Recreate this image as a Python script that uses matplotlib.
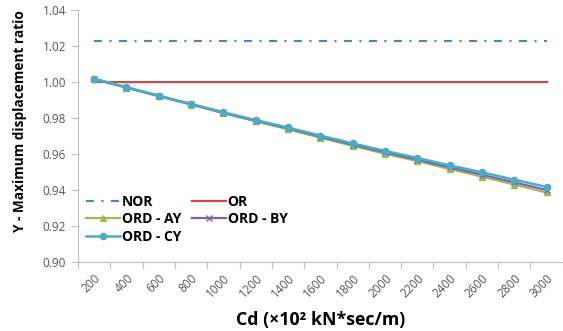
import matplotlib
matplotlib.use("Agg")
import matplotlib.pyplot as plt
import numpy as np

categories = ["200", "400", "600", "800", "1000", "1200", "1400", "1600",
              "1800", "2000", "2200", "2400", "2600", "2800", "3000"]
nor = [1.023] * 15
orr = [1.000] * 15
ord_ay = [1.0015, 0.9968, 0.9920, 0.9874, 0.9826, 0.9781, 0.9737, 0.9690,
          0.9645, 0.9601, 0.9560, 0.9516, 0.9474, 0.9430, 0.9386]
ord_by = [1.0016, 0.9969, 0.9922, 0.9876, 0.9829, 0.9785, 0.9742, 0.9696,
          0.9652, 0.9609, 0.9568, 0.9526, 0.9485, 0.9442, 0.9400]
ord_cy = [1.0018, 0.9971, 0.9924, 0.9878, 0.9832, 0.9788, 0.9747, 0.9702,
          0.9659, 0.9617, 0.9578, 0.9537, 0.9498, 0.9457, 0.9417]
yticks = [0.90, 0.92, 0.94, 0.96, 0.98, 1.00, 1.02, 1.04]

plt.rcParams['font.family'] = ['Open Sans', 'DejaVu Sans']

fig = plt.figure(figsize=(5.63, 3.31), dpi=100)
ax = fig.add_axes([0.1385, 0.2085, 0.861, 0.7615])

x = np.arange(len(categories))
h_nor, = ax.plot(x, nor, color='#4F81BD', lw=1.5, linestyle=(0, (3.8, 3.6, 1.0, 3.6)), label='NOR')
h_or, = ax.plot(x, orr, color='#C0504D', lw=1.6, label='OR')
h_ay, = ax.plot(x, ord_ay, color='#9BBB59', lw=1.6, marker='^', ms=5, label='ORD - AY')
h_by, = ax.plot(x, ord_by, color='#8064A2', lw=1.6, marker='x', ms=5, label='ORD - BY')
h_cy, = ax.plot(x, ord_cy, color='#4BACC6', lw=1.8, marker='o', ms=4.5, label='ORD - CY')

ax.set_xlim(-0.5, len(categories) - 0.5)
ax.set_ylim(0.90, 1.04)
ax.set_yticks(yticks)
ax.set_yticklabels([f"{v:.2f}" for v in yticks])

ax.set_xticks(np.arange(-0.5, len(categories), 1.0))
ax.set_xticklabels([])
ax.set_xticks(x, minor=True)
ax.set_xticklabels(categories, minor=True, rotation=45, ha='right', va='top',
                   rotation_mode='anchor')
ax.tick_params(axis='x', which='minor', length=0, pad=7, labelsize=8.5, labelcolor='#555555')
ax.tick_params(axis='x', which='major', length=5, color='#BFBFBF')
ax.tick_params(axis='y', length=5, color='#BFBFBF', labelsize=8.5, labelcolor='#555555')

for s in ['top', 'right']:
    ax.spines[s].set_visible(False)
for s in ['left', 'bottom']:
    ax.spines[s].set_color('#BFBFBF')

ax.set_ylabel('Y - Maximum displacement ratio', fontsize=9.8, fontweight='bold')
ax.yaxis.set_label_coords(-0.105, 0.56)
ax.set_xlabel('Cd (×10² kN*sec/m)', fontsize=12.8, fontweight='bold', labelpad=8)

handles = [h_nor, h_ay, h_cy, h_or, h_by]
leg = ax.legend(handles=handles, labels=[h.get_label() for h in handles],
                ncol=2, loc='lower left', bbox_to_anchor=(0.0, 0.04), frameon=False,
                prop={'weight': 'bold', 'size': 10}, handlelength=2.4, handletextpad=0.15,
                columnspacing=0.8, labelspacing=0.25, borderaxespad=0.2)

fig.savefig('out.png', dpi=100)
